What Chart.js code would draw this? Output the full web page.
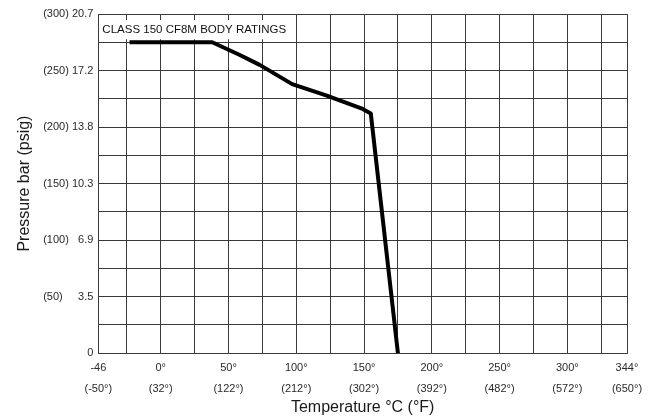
<!DOCTYPE html>
<html>
<head>
<meta charset="utf-8">
<script src="https://cdn.jsdelivr.net/npm/chart.js@4.4.0/dist/chart.umd.min.js"></script>
<style>
  html, body { margin: 0; padding: 0; background: #fff; }
  #wrap { width: 660px; height: 417px; }
</style>
</head>
<body>
<div id="wrap"><canvas id="chart"></canvas></div>
<script>
// rating curve
const tempC = [-23, 38, 58, 73, 97, 122, 149, 155, 175];
const psiVals = [275, 275, 264, 255, 238, 228, 216, 212, 0];

// axis labels
const xGridC = [-46, -25, 0, 25, 50, 75, 100, 125, 150, 175, 200, 225, 250, 275, 300, 325, 344];
const xTickC = [-46, 0, 50, 100, 150, 200, 250, 300, 344];
const xTickTop = ['-46', '0°', '50°', '100°', '150°', '200°', '250°', '300°', '344°'];
const xTickF = ['(-50°)', '(32°)', '(122°)', '(212°)', '(302°)', '(392°)', '(482°)', '(572°)', '(650°)'];
const yTickPsi = [0, 50, 100, 150, 200, 250, 300];
const yTickBar = ['0', '3.5', '6.9', '10.3', '13.8', '17.2', '20.7'];

const FONT = "'Liberation Sans', Arial, sans-serif";
const gridColor = '#3a3a3a';

const ctx = document.querySelector('#chart').getContext('2d');

// white box with the rating title inside the plot
const titleBox = {
    id: 'titleBox',
    beforeDatasetsDraw(chart) {
        const c = chart.ctx;
        const area = chart.chartArea;
        const x = chart.scales.x, y = chart.scales.y;
        const right = x.getPixelForValue(100) - 1;
        const top = area.top + 6;
        const bottom = y.getPixelForValue(275) - 3;
        c.save();
        c.fillStyle = '#fff';
        c.fillRect(area.left + 1, top, right - area.left - 1, bottom - top);
        c.fillStyle = '#111';
        c.font = '11.5px ' + FONT;
        c.textBaseline = 'middle';
        c.fillText('CLASS 150 CF8M BODY RATINGS', area.left + 4, (top + bottom) / 2);
        c.restore();
    }
};

new Chart(ctx, {
    type: 'line',
    data: {
        datasets: [{
            data: tempC.map((t, i) => ({ x: t, y: psiVals[i] })),
            borderColor: '#000',
            borderWidth: 4,
            borderJoinStyle: 'round',
            pointRadius: 0,
            tension: 0,
            fill: false
        }]
    },
    options: {
        responsive: true,
        maintainAspectRatio: false,
        animation: false,
        layout: { padding: { left: 11, right: 33, top: 14, bottom: 0 } },
        plugins: { legend: { display: false }, tooltip: { enabled: false } },
        scales: {
            x: {
                type: 'linear',
                min: -46,
                max: 344,
                afterBuildTicks: (scale) => { scale.ticks = xGridC.map(v => ({ value: v })); },
                grid: { color: gridColor, lineWidth: 1, drawTicks: false },
                border: { color: gridColor, width: 1 },
                ticks: {
                    autoSkip: false,
                    maxRotation: 0,
                    padding: 4,
                    color: '#2a2a2a',
                    font: { family: FONT, size: 11, lineHeight: 1.9 },
                    callback: (v) => {
                        const i = xTickC.indexOf(v);
                        return i < 0 ? '' : [xTickTop[i], xTickF[i]];
                    }
                },
                title: {
                    display: true,
                    text: 'Temperature °C (°F)',
                    color: '#1a1a1a',
                    font: { family: FONT, size: 16, lineHeight: 1.125 },
                    padding: { top: -4, bottom: 0 }
                }
            },
            y: {
                min: 0,
                max: 300,
                ticks: {
                    stepSize: 25,
                    padding: 5,
                    color: '#2a2a2a',
                    font: { family: FONT, size: 11 },
                    callback: (v) => {
                        const i = yTickPsi.indexOf(v);
                        if (i < 0) return '';
                        if (v === 0) return yTickBar[i];
                        let gap = ' ';
                        if (v < 100) gap += '  ';
                        if (yTickBar[i].length < 4) gap += '  ';
                        return '(' + v + ')' + gap + yTickBar[i];
                    }
                },
                grid: { color: gridColor, lineWidth: 1, drawTicks: false },
                border: { color: gridColor, width: 1 },
                title: {
                    display: true,
                    text: 'Pressure bar (psig)',
                    color: '#1a1a1a',
                    font: { family: FONT, size: 16 },
                    padding: { top: 4, bottom: 4 }
                }
            }
        }
    },
    plugins: [titleBox]
});
</script>
</body>
</html>
